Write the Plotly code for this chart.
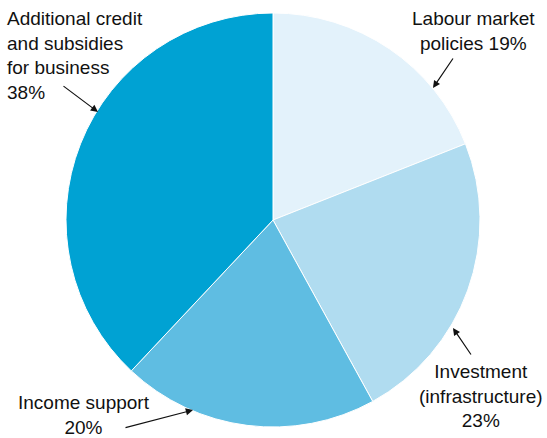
import plotly.graph_objects as go

W, H = 547, 438

categories = ["Labour market policies", "Investment (infrastructure)", "Income support",
              "Additional credit and subsidies for business"]
values = [19, 23, 20, 38]
colors = ["#e3f2fb", "#b0dcf0", "#5fbde2", "#00a2d3"]
label_texts = ["Labour market<br>policies 19%", "Investment<br>(infrastructure)<br>23%",
               "Income support<br>20%", "Additional credit<br>and subsidies<br>for business<br>38%"]

def px(x):
    return x / W

def py(y):
    return 1 - y / H

fig = go.Figure(go.Pie(
    labels=categories, values=values, sort=False, direction="clockwise", rotation=0,
    marker=dict(colors=colors, line=dict(color="white", width=1)),
    textinfo="none", hoverinfo="label+percent", showlegend=False,
    domain=dict(x=[px(66), px(480)], y=[py(427), py(13)]),
))

font = dict(family="Liberation Sans, Arial, sans-serif", size=19, color="#111111")

# text labels
text_pos = [
    dict(x=473, y=6, xanchor="center", yanchor="top", align="center"),
    dict(x=481, y=359, xanchor="center", yanchor="top", align="center"),
    dict(x=84, y=390, xanchor="center", yanchor="top", align="center"),
    dict(x=5, y=6, xanchor="left", yanchor="top", align="left"),
]
for t, p in zip(label_texts, text_pos):
    fig.add_annotation(text=t, x=px(p["x"]), y=py(p["y"]), xref="paper", yref="paper",
                       xanchor=p["xanchor"], yanchor=p["yanchor"], align=p["align"],
                       showarrow=False, font=font)

# arrows: (head_x, head_y, tail_x, tail_y)
arrows = [
    (433, 88, 454, 57),
    (453, 328, 472, 356),
    (193, 410, 124, 428),
    (98, 112, 62, 85),
]
for hx, hy, tx, ty in arrows:
    fig.add_annotation(text="", x=px(hx), y=py(hy), xref="paper", yref="paper",
                       ax=tx - hx, ay=ty - hy, showarrow=True, arrowhead=2,
                       arrowsize=1.2, arrowwidth=1.2, arrowcolor="#111111", standoff=0)

fig.update_layout(width=W, height=H, margin=dict(l=0, r=0, t=0, b=0),
                  paper_bgcolor="white", plot_bgcolor="white")

fig.write_html("out.html")
